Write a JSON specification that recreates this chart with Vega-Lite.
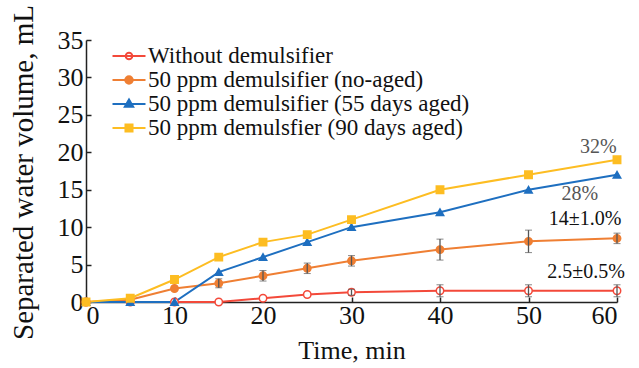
{
  "$schema": "https://vega.github.io/schema/vega-lite/v6.json",
  "width": 531,
  "height": 262,
  "autosize": {"type": "none"},
  "padding": {"left": 86, "top": 40, "right": 22, "bottom": 66},
  "background": "white",
  "config": {
    "font": "Liberation Serif",
    "view": {"stroke": null},
    "axis": {
      "domainColor": "#222",
      "domainWidth": 1.5,
      "tickColor": "#222",
      "tickWidth": 1.5,
      "tickSize": -5,
      "grid": false,
      "labelOverlap": false,
      "labelFont": "Liberation Serif",
      "labelFontSize": 26,
      "labelColor": "#111",
      "titleFont": "Liberation Serif",
      "titleFontSize": 26,
      "titleFontWeight": "normal",
      "titleColor": "#111"
    }
  },
  "datasets": {
    "main": [
      {"series": "Without demulsifier", "t": 0, "v": 0},
      {"series": "Without demulsifier", "t": 5, "v": 0},
      {"series": "Without demulsifier", "t": 10, "v": 0},
      {"series": "Without demulsifier", "t": 15, "v": 0},
      {"series": "Without demulsifier", "t": 20, "v": 0.5},
      {"series": "Without demulsifier", "t": 25, "v": 1.0},
      {"series": "Without demulsifier", "t": 30, "v": 1.3, "lo": 0.9, "hi": 1.7},
      {"series": "Without demulsifier", "t": 40, "v": 1.5, "lo": 0.7, "hi": 2.3},
      {"series": "Without demulsifier", "t": 50, "v": 1.5, "lo": 0.7, "hi": 2.3},
      {"series": "Without demulsifier", "t": 60, "v": 1.5, "lo": 0.7, "hi": 2.3},
      {"series": "50 ppm demulsifier (no-aged)", "t": 0, "v": 0},
      {"series": "50 ppm demulsifier (no-aged)", "t": 5, "v": 0.3},
      {"series": "50 ppm demulsifier (no-aged)", "t": 10, "v": 1.8},
      {"series": "50 ppm demulsifier (no-aged)", "t": 15, "v": 2.5, "lo": 1.9, "hi": 3.1},
      {"series": "50 ppm demulsifier (no-aged)", "t": 20, "v": 3.5, "lo": 2.8, "hi": 4.2},
      {"series": "50 ppm demulsifier (no-aged)", "t": 25, "v": 4.5, "lo": 3.8, "hi": 5.2},
      {"series": "50 ppm demulsifier (no-aged)", "t": 30, "v": 5.5, "lo": 4.8, "hi": 6.2},
      {"series": "50 ppm demulsifier (no-aged)", "t": 40, "v": 7.0, "lo": 5.6, "hi": 8.4},
      {"series": "50 ppm demulsifier (no-aged)", "t": 50, "v": 8.1, "lo": 6.6, "hi": 9.6},
      {"series": "50 ppm demulsifier (no-aged)", "t": 60, "v": 8.5, "lo": 7.8, "hi": 9.2},
      {"series": "50 ppm demulsifier (55 days aged)", "t": 0, "v": 0},
      {"series": "50 ppm demulsifier (55 days aged)", "t": 5, "v": 0},
      {"series": "50 ppm demulsifier (55 days aged)", "t": 10, "v": 0},
      {"series": "50 ppm demulsifier (55 days aged)", "t": 15, "v": 4},
      {"series": "50 ppm demulsifier (55 days aged)", "t": 20, "v": 6},
      {"series": "50 ppm demulsifier (55 days aged)", "t": 25, "v": 8},
      {"series": "50 ppm demulsifier (55 days aged)", "t": 30, "v": 10},
      {"series": "50 ppm demulsifier (55 days aged)", "t": 40, "v": 12},
      {"series": "50 ppm demulsifier (55 days aged)", "t": 50, "v": 15},
      {"series": "50 ppm demulsifier (55 days aged)", "t": 60, "v": 17},
      {"series": "50 ppm demulsfier (90 days aged)", "t": 0, "v": 0},
      {"series": "50 ppm demulsfier (90 days aged)", "t": 5, "v": 0.5},
      {"series": "50 ppm demulsfier (90 days aged)", "t": 10, "v": 3},
      {"series": "50 ppm demulsfier (90 days aged)", "t": 15, "v": 6},
      {"series": "50 ppm demulsfier (90 days aged)", "t": 20, "v": 8},
      {"series": "50 ppm demulsfier (90 days aged)", "t": 25, "v": 9},
      {"series": "50 ppm demulsfier (90 days aged)", "t": 30, "v": 11},
      {"series": "50 ppm demulsfier (90 days aged)", "t": 40, "v": 15},
      {"series": "50 ppm demulsfier (90 days aged)", "t": 50, "v": 17},
      {"series": "50 ppm demulsfier (90 days aged)", "t": 60, "v": 19}
    ],
    "notes": [
      {"label": "32%", "t": 57.9, "v": 20.7, "c": "#555555"},
      {"label": "28%", "t": 55.8, "v": 14.4, "c": "#555555"},
      {"label": "14±1.0%", "t": 56.4, "v": 11.1, "c": "#111111"},
      {"label": "2.5±0.5%", "t": 56.5, "v": 4.0, "c": "#111111"}
    ]
  },
  "layer": [
    {
      "data": {"name": "main"},
      "mark": {"type": "line", "strokeWidth": 2},
      "encoding": {
        "x": {
          "field": "t", "type": "quantitative",
          "scale": {"domain": [0, 60], "nice": false},
          "axis": {"values": [0, 10, 20, 30, 40, 50, 60], "title": "Time, min", "labelPadding": 5, "titlePadding": 9, "labelOverlap": false}
        },
        "y": {
          "field": "v", "type": "quantitative",
          "scale": {"domain": [0, 35], "nice": false},
          "axis": {"values": [0, 5, 10, 15, 20, 25, 30, 35], "tickCount": 8, "labelOverlap": false, "title": "Separated water volume, mL", "titleFontSize": 29, "titleY": 132, "labelPadding": 8, "titlePadding": 19}
        },
        "color": {
          "field": "series", "type": "nominal",
          "scale": {
            "domain": ["Without demulsifier", "50 ppm demulsifier (no-aged)", "50 ppm demulsifier (55 days aged)", "50 ppm demulsfier (90 days aged)"],
            "range": ["#f3493a", "#ef7f33", "#1e6fc0", "#fdbd22"]
          },
          "legend": {
            "title": null,
            "orient": "none",
            "legendX": 31,
            "legendY": 4,
            "padding": 0,
            "rowPadding": -1.3,
            "symbolSize": 484,
            "symbolStrokeWidth": 2,
            "symbolOpacity": 1,
            "labelFont": "Liberation Serif",
            "labelFontSize": 23,
            "labelLimit": 0,
            "labelColor": "#111",
            "labelOffset": 7,
            "encode": {
              "symbols": {
                "update": {
                  "shape": {"signal": "datum.value == 'Without demulsifier' ? 'M-1.5,0H1.5M-0.3,0a0.3,0.3 0 1,0 0.6,0a0.3,0.3 0 1,0 -0.6,0Z' : datum.value == '50 ppm demulsifier (no-aged)' ? 'M-1.5,0H1.5M-0.34,0a0.34,0.34 0 1,0 0.68,0a0.34,0.34 0 1,0 -0.68,0Z' : datum.value == '50 ppm demulsifier (55 days aged)' ? 'M-1.5,0H1.5M0,-0.4L0.38,0.26L-0.38,0.26Z' : 'M-1.5,0H1.5M-0.32,-0.32H0.32V0.32H-0.32Z'"},
                  "fill": {"signal": "datum.value == 'Without demulsifier' ? '#ffffff' : datum.value == '50 ppm demulsifier (no-aged)' ? '#ef7f33' : datum.value == '50 ppm demulsifier (55 days aged)' ? '#1e6fc0' : '#fdbd22'"},
                  "stroke": {"signal": "datum.value == 'Without demulsifier' ? '#f3493a' : datum.value == '50 ppm demulsifier (no-aged)' ? '#ef7f33' : datum.value == '50 ppm demulsifier (55 days aged)' ? '#1e6fc0' : '#fdbd22'"}
                }
              }
            }
          }
        }
      }
    },
    {
      "data": {"name": "main"},
      "mark": {"type": "point", "filled": false, "strokeWidth": 1.5, "opacity": 1},
      "encoding": {
        "x": {"field": "t", "type": "quantitative"},
        "y": {"field": "v", "type": "quantitative"},
        "stroke": {"field": "series", "type": "nominal", "scale": {"domain": ["Without demulsifier", "50 ppm demulsifier (no-aged)", "50 ppm demulsifier (55 days aged)", "50 ppm demulsfier (90 days aged)"], "range": ["#f3493a", "#ef7f33", "#1e6fc0", "#fdbd22"]}, "legend": null},
        "fill": {"field": "series", "type": "nominal", "scale": {"domain": ["Without demulsifier", "50 ppm demulsifier (no-aged)", "50 ppm demulsifier (55 days aged)", "50 ppm demulsfier (90 days aged)"], "range": ["#ffffff", "#ef7f33", "#1e6fc0", "#fdbd22"]}, "legend": null},
        "shape": {"field": "series", "type": "nominal", "scale": {"domain": ["Without demulsifier", "50 ppm demulsifier (no-aged)", "50 ppm demulsifier (55 days aged)", "50 ppm demulsfier (90 days aged)"], "range": ["circle", "circle", "triangle-up", "square"]}, "legend": null},
        "size": {"value": 55}
      }
    },
    {
      "data": {"name": "main"},
      "transform": [{"filter": "isValid(datum.lo)"}],
      "mark": {"type": "errorbar", "ticks": {"size": 7, "color": "#555", "strokeWidth": 1.3}, "rule": {"color": "#555", "strokeWidth": 1.3}},
      "encoding": {
        "x": {"field": "t", "type": "quantitative", "axis": {"values": [0, 10, 20, 30, 40, 50, 60], "title": "Time, min", "labelPadding": 5, "titlePadding": 9, "labelOverlap": false}},
        "y": {"field": "lo", "type": "quantitative", "axis": {"values": [0, 5, 10, 15, 20, 25, 30, 35], "tickCount": 8, "labelOverlap": false, "title": "Separated water volume, mL", "titleFontSize": 29, "titleY": 132, "labelPadding": 8, "titlePadding": 19}},
        "y2": {"field": "hi"}
      }
    },
    {
      "data": {"name": "notes"},
      "mark": {"type": "text", "fontSize": 20, "font": "Liberation Serif", "align": "center", "baseline": "middle"},
      "encoding": {
        "x": {"field": "t", "type": "quantitative"},
        "y": {"field": "v", "type": "quantitative"},
        "text": {"field": "label"},
        "color": {"field": "c", "type": "nominal", "scale": null}
      }
    }
  ],
  "resolve": {"scale": {"color": "independent"}}
}
